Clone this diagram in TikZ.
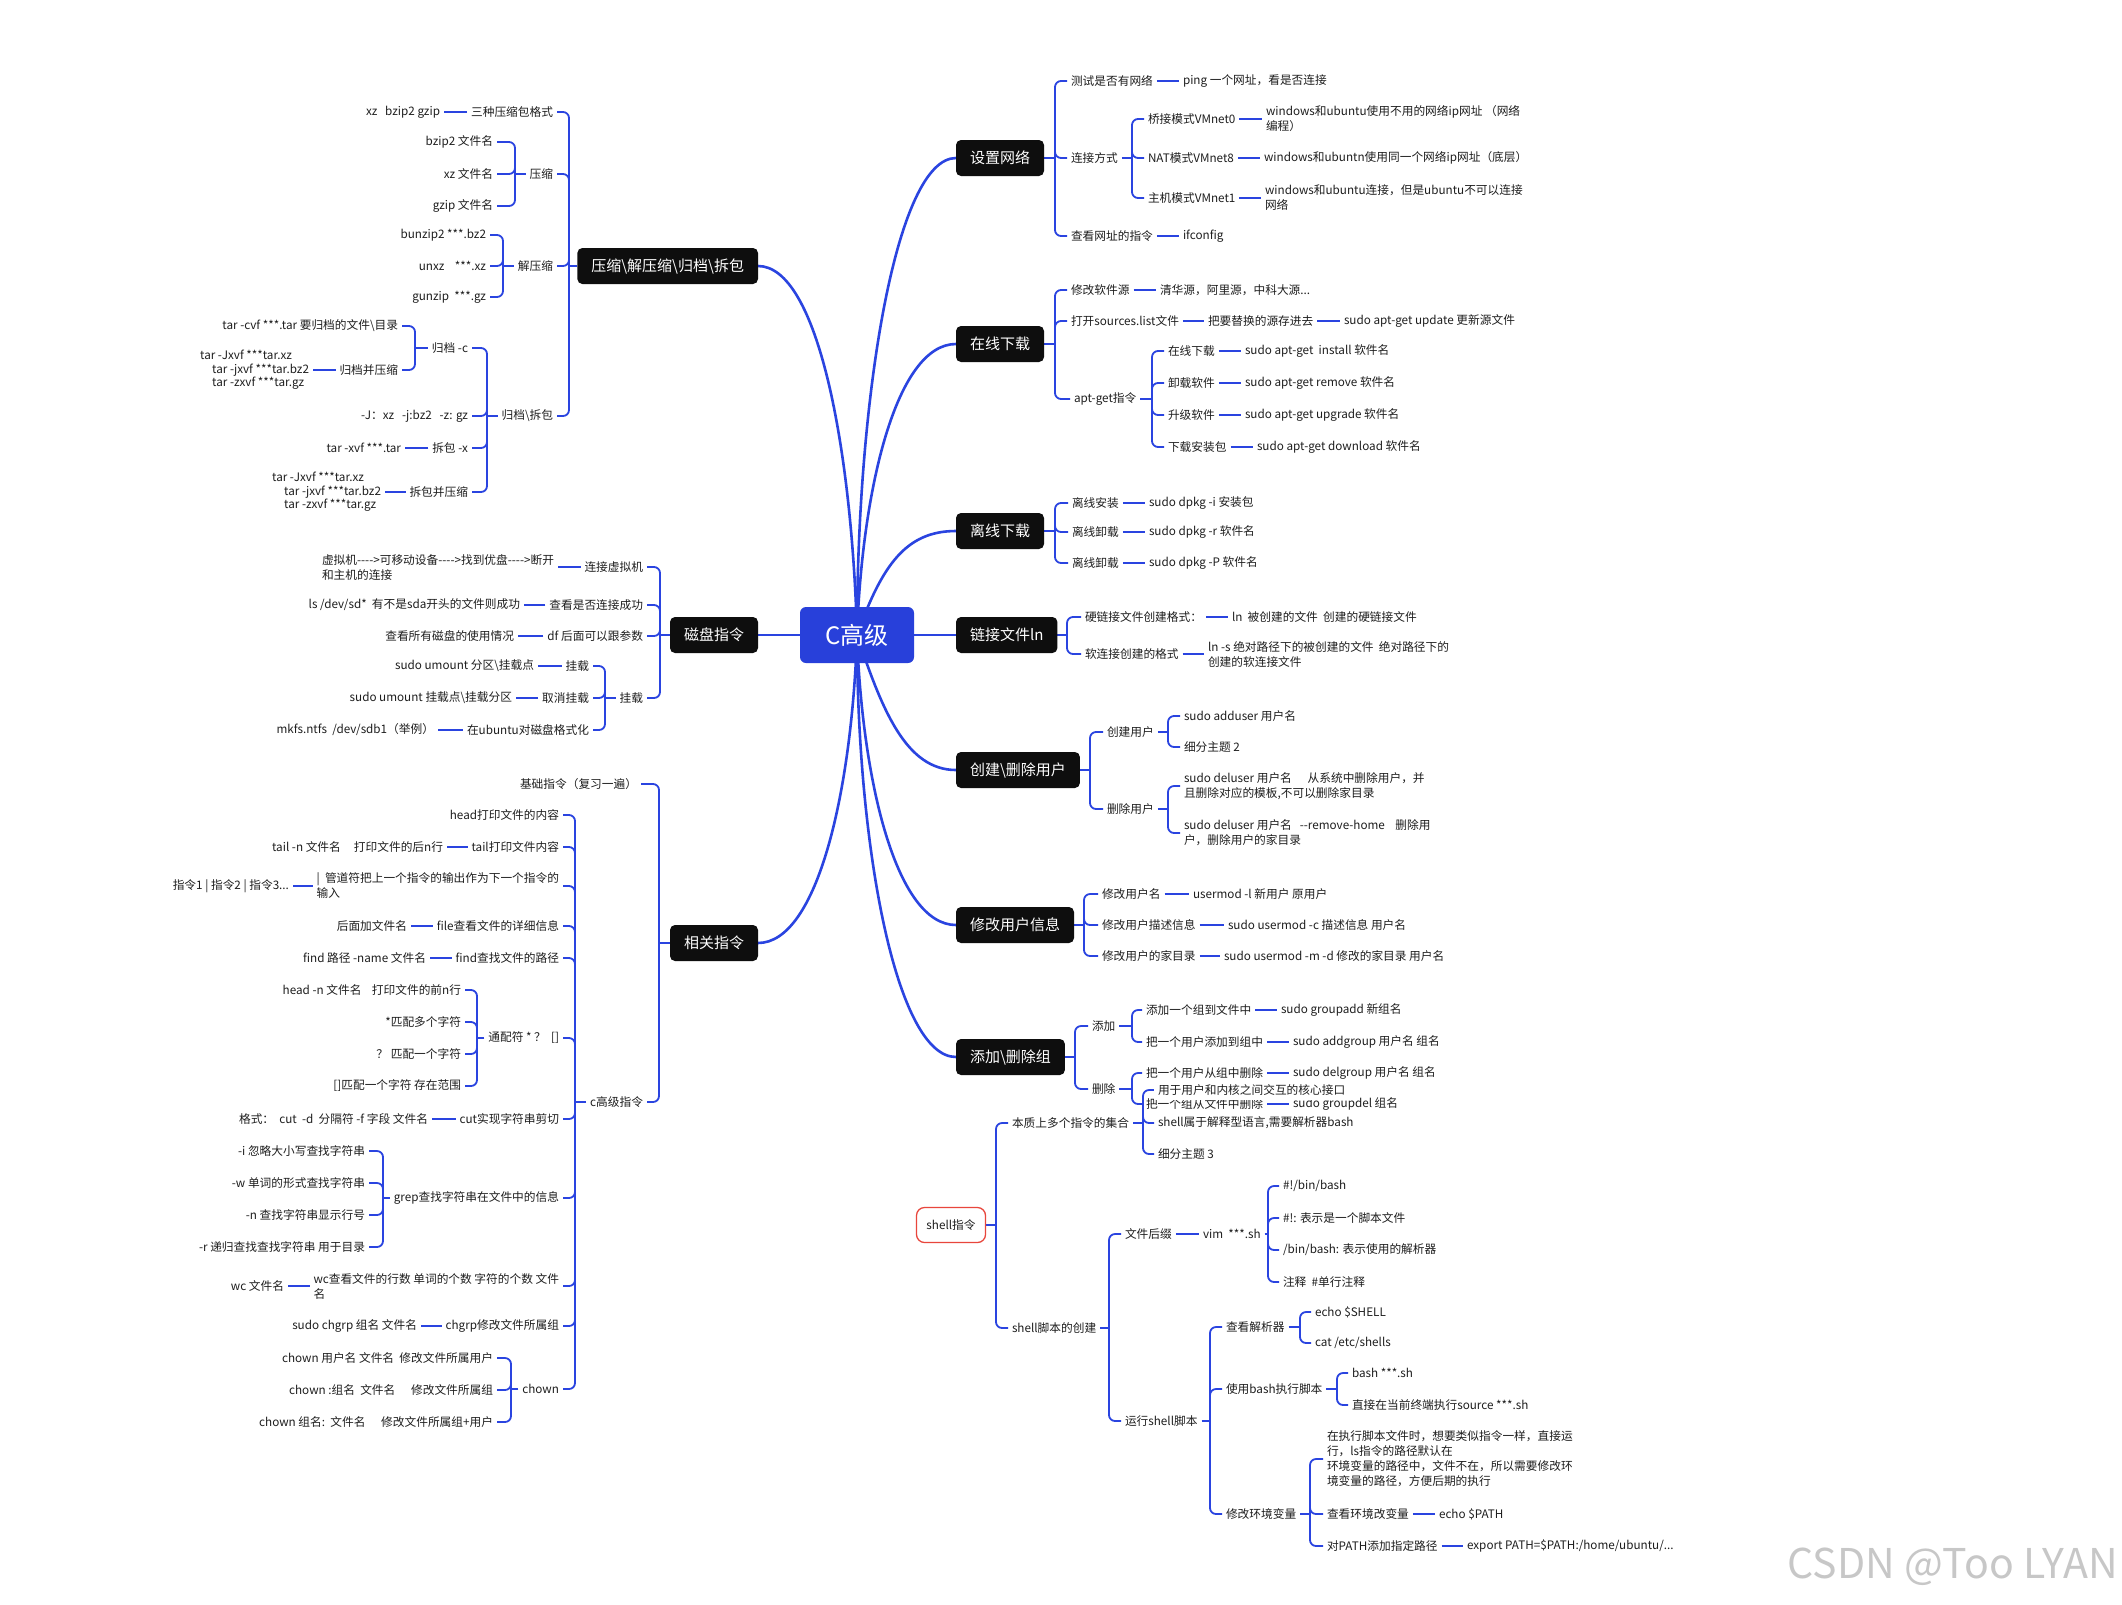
\documentclass[tikz,border=0pt]{standalone}
\usepackage{fontspec}
\setmainfont{Noto Sans CJK SC}[Ligatures=TeXOff]
\definecolor{lnc}{RGB}{42,68,224}
\definecolor{rootc}{RGB}{40,64,218}
\definecolor{txt}{RGB}{30,30,30}
\definecolor{boxc}{RGB}{14,14,14}
\definecolor{redc}{RGB}{232,70,60}
\pgfdeclarelayer{bg}
\pgfsetlayers{bg,main}
\tikzset{
 lt/.style={font=\fontsize{11.7}{15}\selectfont, text=txt, inner xsep=4pt, inner ysep=1pt, outer sep=0pt, align=left},
 kr/.style={lt, anchor=west},
 kl/.style={lt, anchor=east},
 tarfont/.style={font=\fontsize{11.7}{13.5}\selectfont},
 topic/.style={fill=boxc, text=white, rounded corners=5pt, font=\fontsize{15}{18}\selectfont, inner xsep=14pt, minimum height=36pt, outer sep=0pt},
 subln/.style={draw=lnc, line width=1.8pt, rounded corners=6pt},
 mainln/.style={draw=lnc, line width=2.6pt},
}
\newcommand\bkR[3]{\draw[subln] (#1.east) -- (#2); \foreach \kid in {#3} {\draw[subln] (#2) |- (\kid.west);}}
\newcommand\bkL[3]{\draw[subln] (#1.west) -- (#2); \foreach \kid in {#3} {\draw[subln] (#2) |- (\kid.east);}}
\newcommand\lnR[2]{\draw[subln] (#1.east) -- (#2.west);}
\newcommand\lnL[2]{\draw[subln] (#1.west) -- (#2.east);}
\begin{document}
\begin{tikzpicture}[x=1pt,y=-1pt]
\begin{pgfonlayer}{bg}
\fill[white] (0,0) rectangle (2122,1604);
\end{pgfonlayer}
\useasboundingbox (0,0) rectangle (2122,1604);

% root and topics
\node[fill=rootc, text=white, rounded corners=6pt, minimum width=114pt, minimum height=56pt, inner sep=0pt, font=\fontsize{24}{28}\selectfont] (root) at (857,635) {C高级};
\node[topic, anchor=west] (net) at (956,158) {设置网络};
\node[topic, anchor=west] (onl) at (956,344) {在线下载};
\node[topic, anchor=west] (off) at (956,531) {离线下载};
\node[topic, anchor=west] (lnk) at (956,635) {链接文件ln};
\node[topic, anchor=west] (usr) at (956,770) {创建\textbackslash 删除用户};
\node[topic, anchor=west] (mod) at (956,925) {修改用户信息};
\node[topic, anchor=west] (grp) at (956,1057) {添加\textbackslash 删除组};
\node[lt, draw=redc, line width=1.3pt, fill=white, rounded corners=8pt, minimum width=69pt, minimum height=35pt] (shl) at (951,1225) {shell指令};
\node[topic, anchor=east] (cmp) at (758,266) {压缩\textbackslash 解压缩\textbackslash 归档\textbackslash 拆包};
\node[topic, anchor=east] (dsk) at (758,635) {磁盘指令};
\node[topic, anchor=east] (rel) at (758,943) {相关指令};

% ---- 设置网络
\node[kr] (n1) at (1067,81) {测试是否有网络};
\node[kr] (n1a) at (1179,81) {ping 一个网址，看是否连接};
\node[kr] (n2) at (1067,158) {连接方式};
\node[kr] (n21) at (1144,119) {桥接模式VMnet0};
\node[kr] (n21a) at (1262,119) {windows和ubuntu使用不用的网络ip网址 （网络\\编程）};
\node[kr] (n22) at (1144,158) {NAT模式VMnet8};
\node[kr] (n22a) at (1260,158) {windows和ubuntn使用同一个网络ip网址（底层）};
\node[kr] (n23) at (1144,198) {主机模式VMnet1};
\node[kr] (n23a) at (1261,198) {windows和ubuntu连接，但是ubuntu不可以连接\\网络};
\node[kr] (n3) at (1067,236) {查看网址的指令};
\node[kr] (n3a) at (1179,236) {ifconfig};
% ---- 在线下载
\node[kr] (m1) at (1067,290) {修改软件源};
\node[kr] (m1a) at (1156,290) {清华源，阿里源，中科大源...};
\node[kr] (m2) at (1067,321) {打开sources.list文件};
\node[kr] (m2a) at (1204,321) {把要替换的源存进去};
\node[kr] (m2b) at (1340,321) {sudo apt-get update 更新源文件};
\node[kr] (m3) at (1070,399) {apt-get指令};
\node[kr] (m31) at (1164,351) {在线下载};
\node[kr] (m31a) at (1241,351) {sudo apt-get\ \ install 软件名};
\node[kr] (m32) at (1164,383) {卸载软件};
\node[kr] (m32a) at (1241,383) {sudo apt-get remove 软件名};
\node[kr] (m33) at (1164,415) {升级软件};
\node[kr] (m33a) at (1241,415) {sudo apt-get upgrade 软件名};
\node[kr] (m34) at (1164,447) {下载安装包};
\node[kr] (m34a) at (1253,447) {sudo apt-get download 软件名};
% ---- 离线下载
\node[kr] (o1) at (1068,503) {离线安装};
\node[kr] (o1a) at (1145,503) {sudo dpkg -i 安装包};
\node[kr] (o2) at (1068,532) {离线卸载};
\node[kr] (o2a) at (1145,532) {sudo dpkg -r 软件名};
\node[kr] (o3) at (1068,563) {离线卸载};
\node[kr] (o3a) at (1145,563) {sudo dpkg -P 软件名};
% ---- 链接文件
\node[kr] (k1) at (1081,617) {硬链接文件创建格式：};
\node[kr] (k1a) at (1228,617) {ln\ \ 被创建的文件\ \ 创建的硬链接文件};
\node[kr] (k2) at (1081,654) {软连接创建的格式};
\node[kr] (k2a) at (1204,654) {ln -s 绝对路径下的被创建的文件\ \ 绝对路径下的\\创建的软连接文件};
% ---- 创建删除用户
\node[kr] (u1) at (1103,732) {创建用户};
\node[kr] (u11) at (1180,716) {sudo adduser 用户名};
\node[kr] (u12) at (1180,747) {细分主题 2};
\node[kr] (u2) at (1103,809) {删除用户};
\node[kr] (u21) at (1180,786) {sudo deluser 用户名\ \ \ \ \ \ 从系统中删除用户，并\\且删除对应的模板,不可以删除家目录};
\node[kr] (u22) at (1180,833) {sudo deluser 用户名\ \ \ --remove-home\ \ \ \ 删除用\\户，删除用户的家目录};
% ---- 修改用户信息
\node[kr] (v1) at (1098,894) {修改用户名};
\node[kr] (v1a) at (1189,894) {usermod -l 新用户 原用户};
\node[kr] (v2) at (1098,925) {修改用户描述信息};
\node[kr] (v2a) at (1224,925) {sudo usermod -c 描述信息 用户名};
\node[kr] (v3) at (1098,956) {修改用户的家目录};
\node[kr] (v3a) at (1220,956) {sudo usermod -m -d 修改的家目录 用户名};
% ---- 添加删除组
\node[kr] (g1) at (1088,1026) {添加};
\node[kr] (g11) at (1142,1010) {添加一个组到文件中};
\node[kr] (g11a) at (1277,1010) {sudo groupadd 新组名};
\node[kr] (g12) at (1142,1042) {把一个用户添加到组中};
\node[kr] (g12a) at (1289,1042) {sudo addgroup 用户名 组名};
\node[kr] (g2) at (1088,1089) {删除};
\node[kr] (g21) at (1142,1073) {把一个用户从组中删除};
\node[kr] (g21a) at (1289,1073) {sudo delgroup 用户名 组名};
\node[kr] (g22) at (1142,1104) {把一个组从文件中删除};
\node[kr] (g22a) at (1289,1104) {sudo groupdel 组名};
% ---- shell指令
\node[kr] (s1) at (1008,1123) {本质上多个指令的集合};
\node[kr, fill=white, inner ysep=5pt] (s11) at (1154,1090) {用于用户和内核之间交互的核心接口};
\node[kr] (s12) at (1154,1123) {shell属于解释型语言,需要解析器bash};
\node[kr] (s13) at (1154,1154) {细分主题 3};
\node[kr] (s2) at (1008,1328) {shell脚本的创建};
\node[kr] (s21) at (1121,1234) {文件后缀};
\node[kr] (s21a) at (1199,1234) {vim\ \ ***.sh};
\node[kr] (s211) at (1279,1186) {\#!/bin/bash};
\node[kr] (s212) at (1279,1218) {\#!: 表示是一个脚本文件};
\node[kr] (s213) at (1279,1250) {/bin/bash: 表示使用的解析器};
\node[kr] (s214) at (1279,1282) {注释\ \ \#单行注释};
\node[kr] (s22) at (1121,1421) {运行shell脚本};
\node[kr] (s221) at (1222,1327) {查看解析器};
\node[kr] (s2211) at (1311,1312) {echo \$SHELL};
\node[kr] (s2212) at (1311,1343) {cat /etc/shells};
\node[kr] (s222) at (1222,1389) {使用bash执行脚本};
\node[kr] (s2221) at (1348,1373) {bash ***.sh};
\node[kr] (s2222) at (1348,1405) {直接在当前终端执行source ***.sh};
\node[kr] (s223) at (1222,1514) {修改环境变量};
\node[kr] (s2231) at (1323,1459) {在执行脚本文件时，想要类似指令一样，直接运\\行，ls指令的路径默认在\\环境变量的路径中，文件不在，所以需要修改环\\境变量的路径，方便后期的执行};
\node[kr] (s2232) at (1323,1514) {查看环境改变量};
\node[kr] (s2232a) at (1435,1514) {echo \$PATH};
\node[kr] (s2233) at (1323,1546) {对PATH添加指定路径};
\node[kr] (s2233a) at (1463,1546) {export PATH=\$PATH:/home/ubuntu/...};

% ---- 压缩 (left)
\node[kl] (a1) at (557,112) {三种压缩包格式};
\node[kl] (a1a) at (444,112) {xz\ \ \ bzip2 gzip};
\node[kl] (a2) at (557,174) {压缩};
\node[kl] (a21) at (497,142) {bzip2 文件名};
\node[kl] (a22) at (497,174) {xz 文件名};
\node[kl] (a23) at (497,206) {gzip 文件名};
\node[kl] (a3) at (557,266) {解压缩};
\node[kl] (a31) at (490,235) {bunzip2 ***.bz2};
\node[kl] (a32) at (490,266) {unxz\ \ \ \ ***.xz};
\node[kl] (a33) at (490,297) {gunzip\ \ ***.gz};
\node[kl] (a4) at (557,416) {归档\textbackslash 拆包};
\node[kl] (a41) at (472,348) {归档 -c};
\node[kl] (a411) at (402,326) {tar -cvf ***.tar 要归档的文件\textbackslash 目录};
\node[kl] (a412) at (402,370) {归档并压缩};
\node[kl, tarfont] (a412a) at (313,370) {tar -Jxvf ***tar.xz\\\hspace*{12pt}tar -jxvf ***tar.bz2\\\hspace*{12pt}tar -zxvf ***tar.gz};
\node[kl] (a42) at (472,416) {-J：xz\ \ \ -j:bz2\ \ \ -z: gz};
\node[kl] (a43) at (472,448) {拆包 -x};
\node[kl] (a43a) at (405,448) {tar -xvf ***.tar};
\node[kl] (a44) at (472,492) {拆包并压缩};
\node[kl, tarfont] (a44a) at (385,492) {tar -Jxvf ***tar.xz\\\hspace*{12pt}tar -jxvf ***tar.bz2\\\hspace*{12pt}tar -zxvf ***tar.gz};
% ---- 磁盘指令
\node[kl] (d1) at (647,567) {连接虚拟机};
\node[kl] (d1a) at (558,567) {虚拟机---->可移动设备---->找到优盘---->断开\\和主机的连接};
\node[kl] (d2) at (647,605) {查看是否连接成功};
\node[kl] (d2a) at (524,605) {ls /dev/sd*\ \ 有不是sda开头的文件则成功};
\node[kl] (d3) at (647,636) {df 后面可以跟参数};
\node[kl] (d3a) at (518,636) {查看所有磁盘的使用情况};
\node[kl] (d4) at (647,698) {挂载};
\node[kl] (d41) at (593,666) {挂载};
\node[kl] (d41a) at (538,666) {sudo umount 分区\textbackslash 挂载点};
\node[kl] (d42) at (593,698) {取消挂载};
\node[kl] (d42a) at (516,698) {sudo umount 挂载点\textbackslash 挂载分区};
\node[kl] (d43) at (593,730) {在ubuntu对磁盘格式化};
\node[kl] (d43a) at (438,730) {mkfs.ntfs\ \ /dev/sdb1（举例）};
% ---- 相关指令
\node[kl] (r1) at (641,784) {基础指令（复习一遍）};
\node[kl] (r2) at (647,1102) {c高级指令};
\node[kl] (r21) at (563,815) {head打印文件的内容};
\node[kl] (r22) at (563,847) {tail打印文件内容};
\node[kl] (r22a) at (447,847) {tail -n 文件名\ \ \ \ \ 打印文件的后n行};
\node[kl] (r23) at (563,886) {|\ \ 管道符把上一个指令的输出作为下一个指令的\\输入};
\node[kl] (r23a) at (293,886) {指令1 | 指令2 | 指令3...};
\node[kl] (r24) at (563,926) {file查看文件的详细信息};
\node[kl] (r24a) at (411,926) {后面加文件名};
\node[kl] (r25) at (563,958) {find查找文件的路径};
\node[kl] (r25a) at (430,958) {find 路径 -name 文件名};
\node[kl] (r26) at (563,1038) {通配符 * ？\ \ []};
\node[kl] (r261) at (465,990) {head -n 文件名\ \ \ \ 打印文件的前n行};
\node[kl] (r262) at (465,1022) {*匹配多个字符};
\node[kl] (r263) at (465,1054) {？ 匹配一个字符};
\node[kl] (r264) at (465,1086) {[]匹配一个字符 存在范围};
\node[kl] (r27) at (563,1119) {cut实现字符串剪切};
\node[kl] (r27a) at (432,1119) {格式：\ \ cut\ \ -d\ \ 分隔符 -f 字段 文件名};
\node[kl] (r28) at (563,1198) {grep查找字符串在文件中的信息};
\node[kl] (r281) at (369,1151) {-i 忽略大小写查找字符串};
\node[kl] (r282) at (369,1183) {-w 单词的形式查找字符串};
\node[kl] (r283) at (369,1215) {-n 查找字符串显示行号};
\node[kl] (r284) at (369,1247) {-r 递归查找查找字符串 用于目录};
\node[kl] (r29) at (563,1286) {wc查看文件的行数 单词的个数 字符的个数 文件\\名};
\node[kl] (r29a) at (288,1286) {wc 文件名};
\node[kl] (r2a) at (563,1326) {chgrp修改文件所属组};
\node[kl] (r2aa) at (421,1326) {sudo chgrp 组名 文件名};
\node[kl] (r2b) at (563,1389) {chown};
\node[kl] (r2b1) at (497,1358) {chown 用户名 文件名\ \ 修改文件所属用户};
\node[kl] (r2b2) at (497,1390) {chown :组名\ \ 文件名\ \ \ \ \ \ 修改文件所属组};
\node[kl] (r2b3) at (497,1422) {chown 组名:\ \ 文件名\ \ \ \ \ \ 修改文件所属组+用户};

\node[anchor=east, text=black!22, font=\fontsize{41}{46}\selectfont, inner sep=0pt] (wm) at (2118,1567) {CSDN @Too LYAN};

% bracket points
\coordinate (netB) at (1055,158); \coordinate (n2B) at (1132,158);
\coordinate (onlB) at (1055,344); \coordinate (m3B) at (1152,399);
\coordinate (offB) at (1055,531); \coordinate (lnkB) at (1067,635);
\coordinate (usrB) at (1090,770); \coordinate (u1B) at (1168,732); \coordinate (u2B) at (1168,809);
\coordinate (modB) at (1084,925);
\coordinate (grpB) at (1075,1057); \coordinate (g1B) at (1132,1026); \coordinate (g2B) at (1132,1089);
\coordinate (shlB) at (996,1225); \coordinate (s1B) at (1143,1123); \coordinate (s2B) at (1109,1328);
\coordinate (s21B) at (1268,1234); \coordinate (s22B) at (1210,1421);
\coordinate (s221B) at (1300,1327); \coordinate (s222B) at (1337,1389); \coordinate (s223B) at (1310,1514);
\coordinate (cmpB) at (569,266); \coordinate (a2B) at (515,174); \coordinate (a3B) at (503,266);
\coordinate (a4B) at (487,416); \coordinate (a41B) at (415,348);
\coordinate (dskB) at (660,635); \coordinate (d4B) at (605,698);
\coordinate (relB) at (659,943); \coordinate (r2B) at (575,1102);
\coordinate (r26B) at (477,1038); \coordinate (r28B) at (383,1198); \coordinate (r2bB) at (511,1389);

\begin{pgfonlayer}{bg}
% main curves
\draw[mainln] (root.center) .. controls +(0,-238) and +(-60,0) .. (net.west);
\draw[mainln] (root.center) .. controls +(5,-145) and +(-60,0) .. (onl.west);
\draw[mainln] (root.center) .. controls +(25,-70) and +(-50,0) .. (off.west);
\draw[mainln] (root.east) -- (lnk.west);
\draw[mainln] (root.center) .. controls +(25,75) and +(-50,0) .. (usr.west);
\draw[mainln] (root.center) .. controls +(5,145) and +(-60,0) .. (mod.west);
\draw[mainln] (root.center) .. controls +(0,211) and +(-60,0) .. (grp.west);
\draw[mainln] (root.center) .. controls +(-5,-185) and +(60,0) .. (cmp.east);
\draw[mainln] (root.west) -- (dsk.east);
\draw[mainln] (root.center) .. controls +(-5,154) and +(60,0) .. (rel.east);
% right subtrees
\bkR{net}{netB}{n1,n2,n3}
\lnR{n1}{n1a} \lnR{n3}{n3a}
\bkR{n2}{n2B}{n21,n22,n23}
\lnR{n21}{n21a} \lnR{n22}{n22a} \lnR{n23}{n23a}
\bkR{onl}{onlB}{m1,m2,m3}
\lnR{m1}{m1a} \lnR{m2}{m2a} \lnR{m2a}{m2b}
\bkR{m3}{m3B}{m31,m32,m33,m34}
\lnR{m31}{m31a} \lnR{m32}{m32a} \lnR{m33}{m33a} \lnR{m34}{m34a}
\bkR{off}{offB}{o1,o2,o3}
\lnR{o1}{o1a} \lnR{o2}{o2a} \lnR{o3}{o3a}
\bkR{lnk}{lnkB}{k1,k2}
\lnR{k1}{k1a} \lnR{k2}{k2a}
\bkR{usr}{usrB}{u1,u2}
\bkR{u1}{u1B}{u11,u12}
\bkR{u2}{u2B}{u21,u22}
\bkR{mod}{modB}{v1,v2,v3}
\lnR{v1}{v1a} \lnR{v2}{v2a} \lnR{v3}{v3a}
\bkR{grp}{grpB}{g1,g2}
\bkR{g1}{g1B}{g11,g12}
\bkR{g2}{g2B}{g21,g22}
\lnR{g11}{g11a} \lnR{g12}{g12a} \lnR{g21}{g21a} \lnR{g22}{g22a}
\bkR{shl}{shlB}{s1,s2}
\bkR{s1}{s1B}{s11,s12,s13}
\bkR{s2}{s2B}{s21,s22}
\lnR{s21}{s21a}
\bkR{s21a}{s21B}{s211,s212,s213,s214}
\bkR{s22}{s22B}{s221,s222,s223}
\bkR{s221}{s221B}{s2211,s2212}
\bkR{s222}{s222B}{s2221,s2222}
\bkR{s223}{s223B}{s2231,s2232,s2233}
\lnR{s2232}{s2232a} \lnR{s2233}{s2233a}
% left subtrees
\bkL{cmp}{cmpB}{a1,a2,a3,a4}
\lnL{a1}{a1a}
\bkL{a2}{a2B}{a21,a22,a23}
\bkL{a3}{a3B}{a31,a32,a33}
\bkL{a4}{a4B}{a41,a42,a43,a44}
\bkL{a41}{a41B}{a411,a412}
\lnL{a412}{a412a} \lnL{a43}{a43a} \lnL{a44}{a44a}
\bkL{dsk}{dskB}{d1,d2,d3,d4}
\lnL{d1}{d1a} \lnL{d2}{d2a} \lnL{d3}{d3a}
\bkL{d4}{d4B}{d41,d42,d43}
\lnL{d41}{d41a} \lnL{d42}{d42a} \lnL{d43}{d43a}
\bkL{rel}{relB}{r1,r2}
\bkL{r2}{r2B}{r21,r22,r23,r24,r25,r26,r27,r28,r29,r2a,r2b}
\lnL{r22}{r22a} \lnL{r23}{r23a} \lnL{r24}{r24a} \lnL{r25}{r25a}
\bkL{r26}{r26B}{r261,r262,r263,r264}
\lnL{r27}{r27a}
\bkL{r28}{r28B}{r281,r282,r283,r284}
\lnL{r29}{r29a} \lnL{r2a}{r2aa}
\bkL{r2b}{r2bB}{r2b1,r2b2,r2b3}
\end{pgfonlayer}
\end{tikzpicture}
\end{document}
